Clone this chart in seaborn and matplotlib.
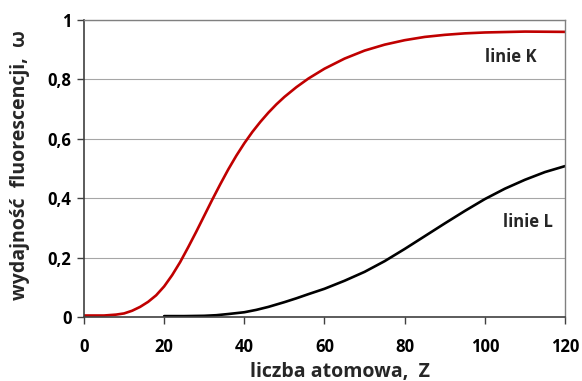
"""Fluorescence yield of K and L lines versus atomic number."""
import matplotlib
matplotlib.use("Agg")
import matplotlib.pyplot as plt
import pandas as pd
import seaborn as sns

# values
z_k = [0, 5, 8, 10, 12, 14, 16, 18, 20, 22, 24, 26, 28, 30, 32, 34, 36, 38, 40, 42, 44,
       46, 48, 50, 53, 56, 60, 65, 70, 75, 80, 85, 90, 95, 100, 110, 120]
omega_k = [0.005, 0.005, 0.008, 0.012, 0.021, 0.034, 0.051, 0.073, 0.103, 0.141, 0.185,
           0.235, 0.287, 0.341, 0.395, 0.447, 0.497, 0.543, 0.585, 0.623, 0.657, 0.688,
           0.716, 0.741, 0.774, 0.803, 0.836, 0.870, 0.897, 0.917, 0.932, 0.943, 0.950,
           0.955, 0.958, 0.961, 0.960]
z_l = [20, 25, 30, 33, 36, 40, 43, 46, 50, 53, 56, 60, 65, 70, 75, 80, 85, 90, 95, 100,
       105, 110, 115, 120]
omega_l = [0.003, 0.003, 0.004, 0.006, 0.01, 0.016, 0.024, 0.034, 0.05, 0.063, 0.077, 0.095,
           0.122, 0.152, 0.188, 0.229, 0.272, 0.315, 0.357, 0.397, 0.432, 0.462, 0.488, 0.508]
x_ticks = [0, 20, 40, 60, 80, 100, 120]
y_ticks = [0, 0.2, 0.4, 0.6, 0.8, 1.0]
y_tick_labels = ["0", "0,2", "0,4", "0,6", "0,8", "1"]

sns.set_theme(style="white")
plt.rcParams["font.family"] = ["Open Sans", "DejaVu Sans"]

k = pd.DataFrame({"Z": z_k, "omega": omega_k})
l = pd.DataFrame({"Z": z_l, "omega": omega_l})

fig = plt.figure(figsize=(5.82, 3.81), dpi=100)
ax = fig.add_axes([0.1443, 0.168, 0.8265, 0.7795])

sns.lineplot(data=k, x="Z", y="omega", color="#C00000", linewidth=1.9, ax=ax)
sns.lineplot(data=l, x="Z", y="omega", color="black", linewidth=1.9, ax=ax)

ax.set_xlim(0, 120)
ax.set_ylim(0, 1)
ax.set_xticks(x_ticks)
ax.set_xticklabels([str(t) for t in x_ticks], fontweight="bold", fontsize=12)
ax.set_yticks(y_ticks)
ax.set_yticklabels(y_tick_labels, fontweight="bold", fontsize=12)
ax.grid(axis="y", color="#A6A6A6", linewidth=0.8)
ax.set_axisbelow(True)
ax.tick_params(axis="both", direction="out", length=5, width=1, color="#404040",
               bottom=True, left=True, labelcolor="black")
ax.tick_params(axis="x", pad=10)
ax.tick_params(axis="y", pad=4)

for side in ("left", "bottom"):
    ax.spines[side].set_color("#404040")
    ax.spines[side].set_linewidth(1.2)
for side in ("top", "right"):
    ax.spines[side].set_color("#808080")
    ax.spines[side].set_linewidth(1.0)

ax.set_xlabel("liczba atomowa,  Z", fontweight="bold", fontsize=14)
ax.set_ylabel("wydajność  fluorescencji,  ω", fontweight="bold", fontsize=14)
ax.xaxis.set_label_coords(0.532, -0.15)
ax.yaxis.set_label_coords(-0.112, 0.513)

ax.text(100, 0.875, "linie K", fontweight="bold", fontsize=12, va="center")
ax.text(104.5, 0.32, "linie L", fontweight="bold", fontsize=12, va="center")

fig.savefig("out.png", dpi=100)
